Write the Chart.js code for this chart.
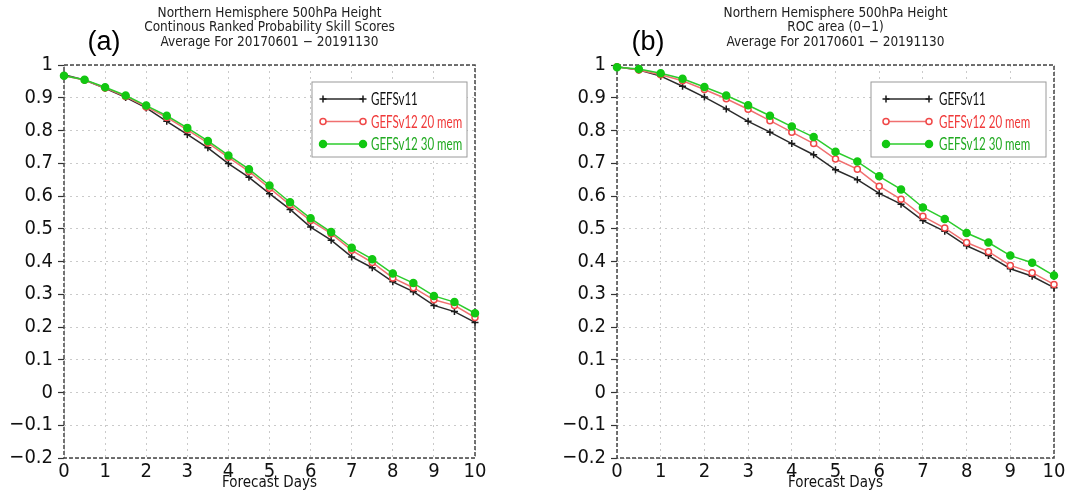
<!DOCTYPE html>
<html lang="en">
<head>
<meta charset="UTF-8">
<title>NH 500hPa Height - GEFS</title>
<script src="https://cdn.jsdelivr.net/npm/chart.js"></script>
<style>
  body { margin: 0; background: #fff; }
  #wrap { position: relative; width: 1069px; height: 492px; }
  .panel { position: absolute; top: 0; height: 492px; }
</style>
</head>
<body>
<div id="wrap">
  <div class="panel" style="left:0;width:540px"><canvas id="chartA"></canvas></div>
  <div class="panel" style="left:540px;width:529px"><canvas id="chartB"></canvas></div>
</div>
<script>
    // forecast lead times (days), one point every 12h
    var days = [0, 0.5, 1, 1.5, 2, 2.5, 3, 3.5, 4, 4.5, 5, 5.5, 6, 6.5, 7, 7.5, 8, 8.5, 9, 9.5, 10];
    var xTickLabels = ['0', '1', '2', '3', '4', '5', '6', '7', '8', '9', '10'];
    var yTickLabels = ['\u22120.2', '\u22120.1', '0', '0.1', '0.2', '0.3', '0.4', '0.5', '0.6', '0.7', '0.8', '0.9', '1'];
    var seriesNames = ['GEFSv11', 'GEFSv12 20 mem', 'GEFSv12 30 mem'];

    // (a) CRPSS
    var crpssV11 = [0.970, 0.954, 0.929, 0.901, 0.869, 0.828, 0.788, 0.747, 0.699, 0.657, 0.607,
                    0.559, 0.505, 0.465, 0.414, 0.381, 0.338, 0.308, 0.266, 0.247, 0.214];
    var crpss20 = [0.967, 0.954, 0.930, 0.904, 0.872, 0.840, 0.802, 0.762, 0.718, 0.675, 0.624,
                   0.573, 0.525, 0.485, 0.434, 0.397, 0.350, 0.320, 0.283, 0.266, 0.229];
    var crpss30 = [0.967, 0.955, 0.932, 0.907, 0.876, 0.845, 0.808, 0.768, 0.724, 0.682, 0.632,
                   0.581, 0.532, 0.490, 0.442, 0.407, 0.363, 0.334, 0.295, 0.276, 0.242];

    // (b) ROC area
    var rocV11 = [0.995, 0.985, 0.966, 0.935, 0.902, 0.866, 0.828, 0.795, 0.760, 0.726, 0.680,
                  0.650, 0.608, 0.575, 0.525, 0.492, 0.448, 0.418, 0.378, 0.355, 0.320];
    var roc20 = [0.995, 0.985, 0.970, 0.952, 0.925, 0.897, 0.865, 0.830, 0.795, 0.760, 0.713,
                 0.682, 0.630, 0.590, 0.538, 0.502, 0.458, 0.430, 0.388, 0.366, 0.330];
    var roc30 = [0.993, 0.988, 0.975, 0.958, 0.933, 0.907, 0.877, 0.845, 0.812, 0.780, 0.735,
                 0.705, 0.660, 0.620, 0.565, 0.530, 0.487, 0.458, 0.418, 0.396, 0.357];

    var titleA = ['Northern Hemisphere 500hPa Height', 'Continous Ranked Probability Skill Scores', 'Average For 20170601 \u2212 20191130'];
    var titleB = ['Northern Hemisphere 500hPa Height', 'ROC area (0\u22121)', 'Average For 20170601 \u2212 20191130'];

    var gradsFont = "'DejaVu Sans Condensed', 'DejaVu Sans', sans-serif";

    var lineStyles = [
        {line: '#2a2a2a', marker: '#1a1a1a', text: '#111111', shape: 'cross', fill: '#1a1a1a', r: 3.5},
        {line: '#f07070', marker: '#f04848', text: '#f03a3a', shape: 'circle', fill: '#ffffff', r: 3},
        {line: '#2ccc2c', marker: '#12c812', text: '#22aa22', shape: 'circle', fill: '#12c812', r: 3.5}
    ];

    function toPoints(vals) {
        return vals.map(function (v, i) { return {x: days[i], y: v}; });
    }

    function drawMarker(ctx, st, x, y) {
        ctx.beginPath();
        if (st.shape === 'cross') {
            ctx.strokeStyle = st.marker;
            ctx.lineWidth = 1.5;
            ctx.moveTo(x - st.r, y); ctx.lineTo(x + st.r, y);
            ctx.moveTo(x, y - st.r); ctx.lineTo(x, y + st.r);
            ctx.stroke();
        } else {
            ctx.arc(x, y, st.r, 0, Math.PI * 2);
            ctx.fillStyle = st.fill;
            ctx.fill();
            ctx.strokeStyle = st.marker;
            ctx.lineWidth = 1.5;
            ctx.stroke();
        }
    }

    // frame, titles, panel tag and the legend box, GrADS style
    var decor = {
        id: 'decor',
        beforeDatasetsDraw: function (chart) {
            var ctx = chart.ctx, a = chart.chartArea;
            ctx.save();
            ctx.strokeStyle = '#444';
            ctx.lineWidth = 1.5;
            ctx.setLineDash([4, 2]);
            ctx.strokeRect(a.left, a.top, a.right - a.left, a.bottom - a.top);
            ctx.restore();
        },
        afterDraw: function (chart, args, opts) {
            var ctx = chart.ctx, a = chart.chartArea;
            var cx = (a.left + a.right) / 2;
            ctx.save();
            ctx.fillStyle = '#222';
            ctx.font = '13.5px ' + gradsFont;
            ctx.textAlign = 'center';
            ctx.textBaseline = 'middle';
            opts.title.forEach(function (t, i) {
                ctx.fillText(t, cx, 13 + i * 14.5);
            });

            ctx.font = '27px "Liberation Sans", Arial, sans-serif';
            ctx.fillStyle = '#000';
            ctx.fillText(opts.tag, opts.tagX, 43);

            // legend
            var lg = opts.legend;
            var bx = a.right - lg.rightGap - lg.width, by = a.top + 17;
            ctx.fillStyle = '#fff';
            ctx.fillRect(bx, by, lg.width, 75);
            ctx.strokeStyle = '#9a9a9a';
            ctx.lineWidth = 1;
            ctx.strokeRect(bx, by, lg.width, 75);
            ctx.textAlign = 'left';
            ctx.font = '16.5px Lato, sans-serif';
            seriesNames.forEach(function (name, i) {
                var st = lineStyles[i];
                var y = by + 17 + i * 22.5;
                var x0 = bx + lg.lineStart, x1 = bx + lg.lineEnd;
                ctx.strokeStyle = st.line;
                ctx.lineWidth = 1.5;
                ctx.beginPath(); ctx.moveTo(x0, y); ctx.lineTo(x1, y); ctx.stroke();
                drawMarker(ctx, st, x0, y);
                drawMarker(ctx, st, x1, y);
                // legend text in the source is narrow, squeeze it horizontally
                ctx.save();
                ctx.translate(bx + lg.textStart, y + 1);
                ctx.scale(0.7, 1);
                ctx.fillStyle = st.text;
                ctx.fillText(name, 0, 0);
                ctx.restore();
            });
            ctx.restore();
        }
    };

    function makePanel(id, series, opts) {
        var datasets = series.map(function (vals, i) {
            var st = lineStyles[i];
            return {
                label: seriesNames[i],
                data: toPoints(vals),
                borderColor: st.line,
                borderWidth: 1.5,
                pointStyle: st.shape,
                pointRadius: st.r,
                pointBorderWidth: 1.5,
                pointBorderColor: st.marker,
                pointBackgroundColor: st.fill,
                order: 2 - i,
                clip: 8,
                tension: 0
            };
        });

        return new Chart(document.getElementById(id), {
            type: 'line',
            data: {datasets: datasets},
            options: {
                responsive: true,
                maintainAspectRatio: false,
                animation: false,
                layout: {padding: {top: 65, right: opts.padRight, bottom: 0, left: 0}},
                plugins: {
                    legend: {display: false},
                    tooltip: {enabled: false},
                    decor: {title: opts.title, tag: opts.tag, tagX: opts.tagX, legend: opts.legend}
                },
                scales: {
                    x: {
                        type: 'linear',
                        min: 0,
                        max: 10,
                        afterFit: function (s) { s.height = 34; },
                        ticks: {
                            stepSize: 1,
                            padding: 2,
                            color: '#111',
                            font: {family: gradsFont, size: 20},
                            maxRotation: 0,
                            callback: function (v, i) { return xTickLabels[i]; }
                        },
                        grid: {color: '#cacaca', lineWidth: 1, drawTicks: false},
                        border: {display: false, dash: [2, 4]},
                        title: {
                            display: true,
                            text: 'Forecast Days',
                            color: '#111',
                            font: {family: gradsFont, size: 15, lineHeight: 1},
                            padding: {top: 0, bottom: 1}
                        }
                    },
                    y: {
                        min: -0.2,
                        max: 1,
                        afterFit: function (s) { s.width = opts.yWidth; },
                        ticks: {
                            stepSize: 0.1,
                            padding: 5,
                            color: '#111',
                            font: {family: gradsFont, size: 20},
                            callback: function (v, i) { return yTickLabels[i]; }
                        },
                        grid: {color: '#cacaca', lineWidth: 1, tickLength: 6, tickColor: '#333', tickWidth: 1.2},
                        border: {display: false, dash: [2, 4]}
                    }
                }
            },
            plugins: [decor]
        });
    }

    makePanel('chartA', [crpssV11, crpss20, crpss30], {
        title: titleA, tag: '(a)', tagX: 104, padRight: 65, yWidth: 64,
        legend: {width: 155, rightGap: 8, lineStart: 11, lineEnd: 51, textStart: 59}
    });
    makePanel('chartB', [rocV11, roc20, roc30], {
        title: titleB, tag: '(b)', tagX: 108, padRight: 15, yWidth: 77,
        legend: {width: 175, rightGap: 8, lineStart: 15, lineEnd: 58, textStart: 68}
    });
</script>
</body>
</html>
